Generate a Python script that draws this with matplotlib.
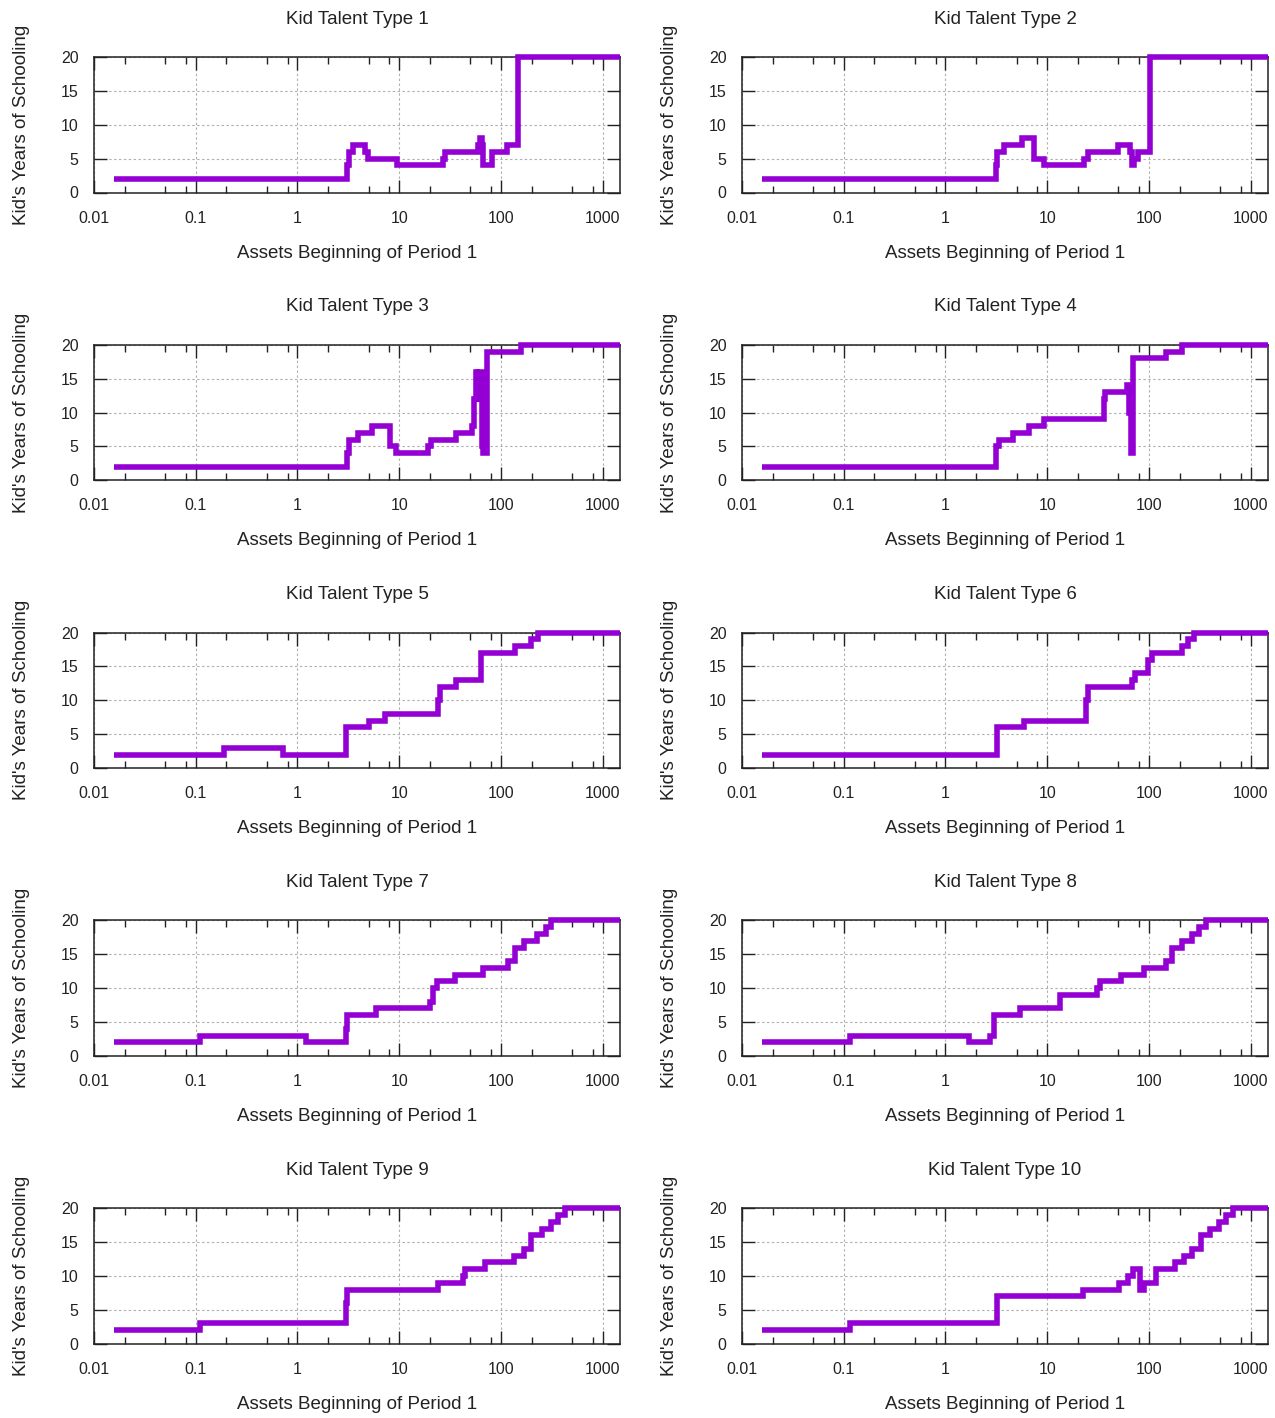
import numpy as np
import matplotlib
matplotlib.use("Agg")
import matplotlib.pyplot as plt
from matplotlib.ticker import FixedLocator, NullFormatter

plt.rcParams['font.family'] = ['Liberation Sans', 'DejaVu Sans']

# asset level where each schooling step starts, and the years of schooling from there on
brk_1 = [0.0158, 3.1, 3.23, 3.5, 4.64, 4.9, 9.6, 26.8, 28, 59.7, 62, 64.5, 66, 81, 114, 148]
lvl_1 = [2, 4, 6, 7, 6, 5, 4, 5, 6, 7, 8, 7, 4, 6, 7, 20]
brk_2 = [0.0158, 3.11, 3.24, 3.79, 5.62, 7.41, 9.39, 23.2, 25.2, 49.2, 64.9, 68.5, 72, 78.9, 102]
lvl_2 = [2, 4, 6, 7, 8, 5, 4, 5, 6, 7, 6, 4, 5, 6, 20]
brk_3 = [0.0158, 3.10, 3.2, 3.95, 5.45, 8.17, 9.23, 19.1, 20.7, 36.4, 52.4, 54.5, 56.5, 58.5, 60.5, 65.7, 67, 72.4, 156]
lvl_3 = [2, 4, 6, 7, 8, 5, 4, 5, 6, 7, 8, 12, 16, 12, 16, 5, 4, 19, 20]
brk_4 = [0.0158, 3.11, 3.37, 4.62, 6.58, 9.39, 35.9, 37.3, 61, 63.5, 66, 69.5, 148, 211]
lvl_4 = [2, 5, 6, 7, 8, 9, 12, 13, 14, 10, 4, 18, 19, 20]
brk_5 = [0.0158, 0.19, 0.72, 2.98, 5.03, 7.24, 24.3, 25.3, 36.4, 64.1, 138, 199, 233]
lvl_5 = [2, 3, 2, 6, 7, 8, 10, 12, 13, 17, 18, 19, 20]
brk_6 = [0.0158, 3.24, 5.85, 24.2, 25.2, 67.4, 73, 97, 108, 211, 240, 279]
lvl_6 = [2, 6, 7, 10, 12, 13, 14, 16, 17, 18, 19, 20]
brk_7 = [0.0158, 0.11, 1.2, 2.98, 3.10, 5.92, 19.9, 21.5, 23.4, 35, 66.8, 117, 138, 169, 224, 275, 310]
lvl_7 = [2, 3, 2, 4, 6, 7, 8, 10, 11, 12, 13, 14, 16, 17, 18, 19, 20]
brk_8 = [0.0158, 0.115, 1.72, 2.75, 2.99, 5.41, 13.4, 30.6, 33.2, 53.2, 88.9, 148, 167, 211, 268, 309, 362]
lvl_8 = [2, 3, 2, 3, 6, 7, 9, 10, 11, 12, 13, 14, 16, 17, 18, 19, 20]
brk_9 = [0.0158, 0.11, 2.98, 3.1, 24.3, 42.8, 44.6, 69.5, 133, 169, 199, 253, 310, 364, 428]
lvl_9 = [2, 3, 6, 8, 9, 10, 11, 12, 13, 14, 16, 17, 18, 19, 20]
brk_10 = [0.0158, 0.115, 3.19, 22.3, 51.2, 62.3, 70.2, 80.9, 88.9, 117, 181, 220, 268, 327, 397, 484, 566, 664]
lvl_10 = [2, 3, 7, 8, 9, 10, 11, 8, 9, 11, 12, 13, 14, 16, 17, 18, 19, 20]

breaks = [brk_1, brk_2, brk_3, brk_4, brk_5, brk_6, brk_7, brk_8, brk_9, brk_10]
levels = [lvl_1, lvl_2, lvl_3, lvl_4, lvl_5, lvl_6, lvl_7, lvl_8, lvl_9, lvl_10]

x_min, x_max = 0.01, 1480          # asset grid upper end
x_ticks = [0.01, 0.1, 1, 10, 100, 1000]
x_ticklabels = ['0.01', '0.1', '1', '10', '100', '1000']
y_ticks = [0, 5, 10, 15, 20]

W, H = 1275, 1418
fig = plt.figure(figsize=(W / 100, H / 100), dpi=100)

col_left = [94, 742]     # px
ax_w, ax_h = 526, 135.5
row_top = 57
row_step = 287.8

for k in range(10):
    r, c = divmod(k, 2)
    left = col_left[c] / W
    bottom = 1 - (row_top + r * row_step + ax_h) / H
    ax = fig.add_axes([left, bottom, ax_w / W, ax_h / H])

    xs = list(breaks[k]) + [x_max]
    ys = list(levels[k]) + [levels[k][-1]]
    ax.step(xs, ys, where='post', color='#9400d3', lw=4.0,
            solid_joinstyle='miter', solid_capstyle='butt', clip_on=False, zorder=5)

    ax.set_xscale('log')
    ax.set_xlim(x_min, x_max)
    ax.set_ylim(0, 20)

    ax.xaxis.set_major_locator(FixedLocator(x_ticks))
    ax.set_xticklabels(x_ticklabels)
    minors = [m * d for d in [0.01, 0.1, 1, 10, 100, 1000] for m in (2, 5, 8)]
    ax.xaxis.set_minor_locator(FixedLocator([v for v in minors if v < x_max]))
    ax.xaxis.set_minor_formatter(NullFormatter())
    ax.set_yticks(y_ticks)

    ax.tick_params(which='both', direction='in', top=True, right=True, colors='#222222',
                   labelsize=11.5)
    ax.tick_params(which='major', length=9.5, width=1.0)
    ax.tick_params(which='minor', length=5, width=1.0)
    ax.tick_params(axis='x', which='major', pad=13)
    ax.tick_params(axis='y', which='major', pad=11)

    ax.grid(True, which='major', color='#b0b0b0', linestyle=(0, (2.2, 2.2)), lw=0.8)
    for sp in ax.spines.values():
        sp.set_linewidth(1.1)
        sp.set_color('#222222')

    ax.set_title('Kid Talent Type %d' % (k + 1), fontsize=13.5, pad=24, color='#222222')
    ax.set_xlabel('Assets Beginning of Period 1', fontsize=13.5, color='#222222')
    ax.xaxis.set_label_coords(0.5, -0.385)
    ax.set_ylabel("Kid's Years of Schooling", fontsize=13.5, color='#222222')
    ax.yaxis.set_label_coords(-0.122, 0.5)

plt.savefig('out.png', dpi=100)
